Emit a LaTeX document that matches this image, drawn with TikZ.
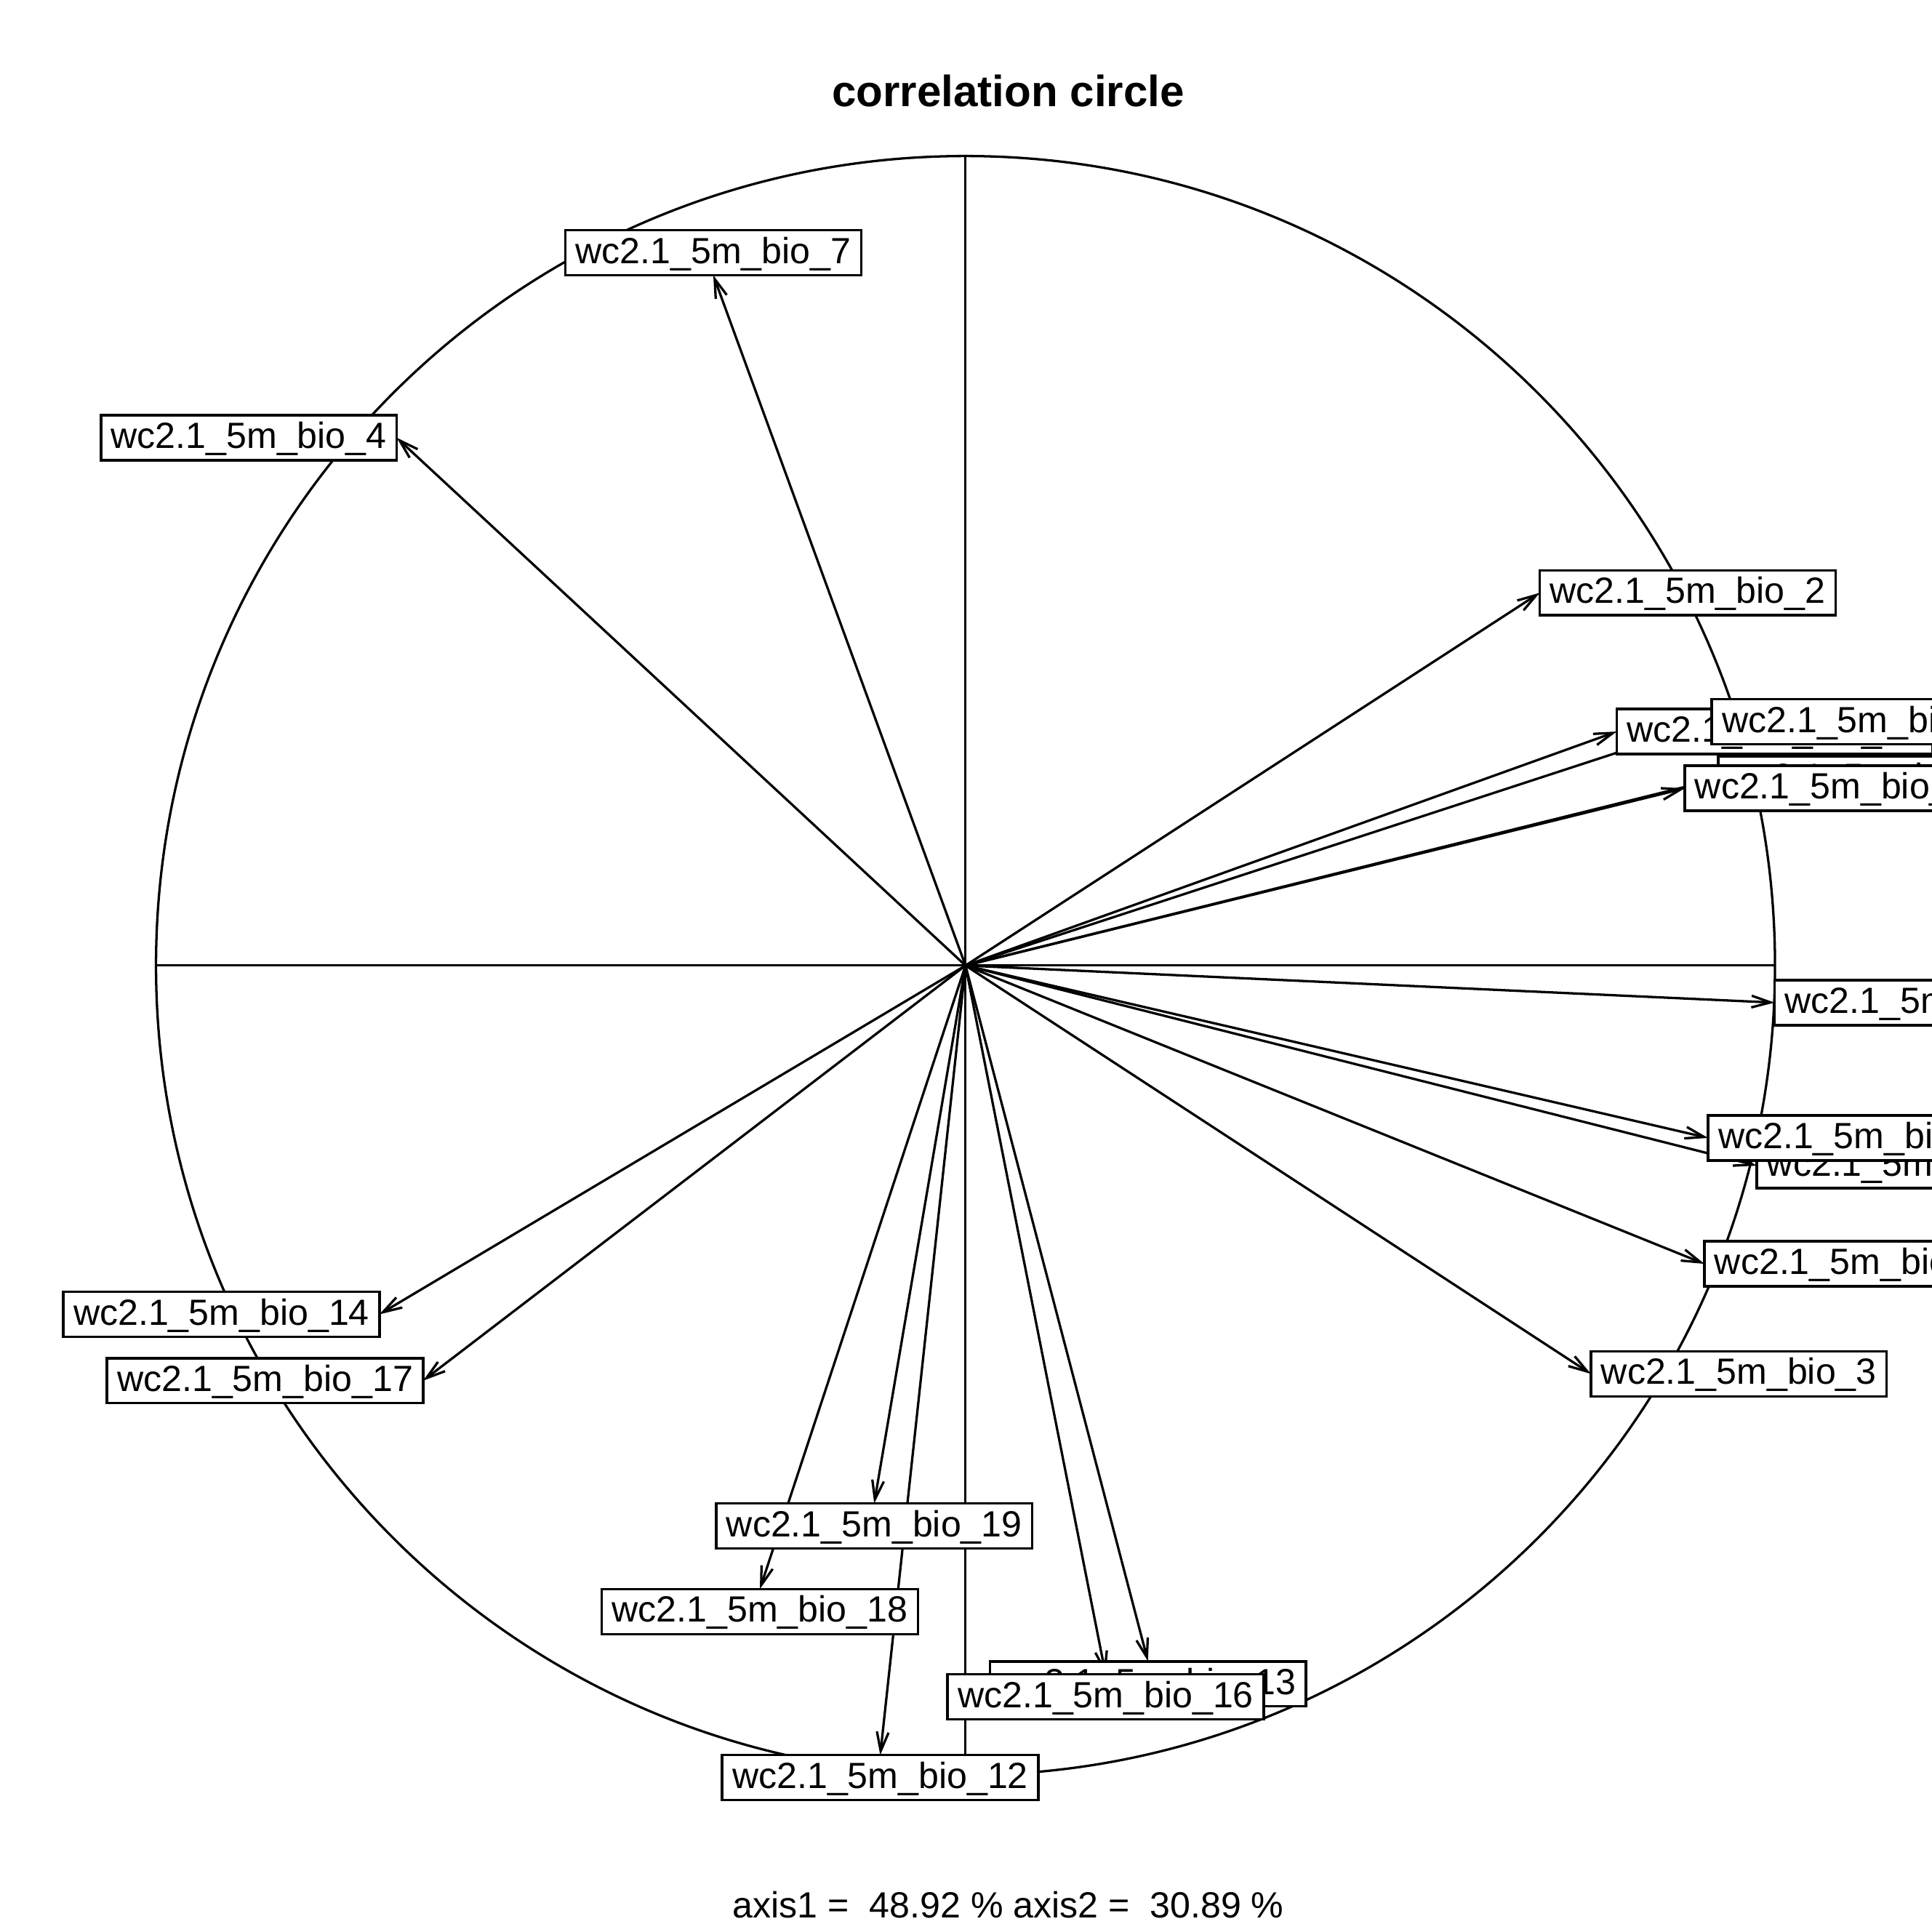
\documentclass[tikz,border=0pt]{standalone}
\usepackage{fontspec}
\setmainfont{Liberation Sans}
\usetikzlibrary{arrows.meta}

\tikzset{
  lab/.style={draw, fill=white, line width=.6pt, outer sep=0pt,
    inner xsep=.0821cm, inner ysep=.0567cm, text height=.2116cm, text depth=.04cm,
    font=\fontsize{8.41pt}{10pt}\selectfont},
  arr/.style={-{Straight Barb[length=.155cm,width=.095cm]}}
}

\begin{document}
\begin{tikzpicture}[x=.01cm, y=-.01cm, line width=.55pt]
\useasboundingbox (0,0) rectangle (1568,1568);
\clip (0,0) rectangle (1568,1568);
\node[anchor=base, font=\bfseries\fontsize{10.09pt}{12pt}\selectfont] (title) at (818.3,86.6) {correlation circle};
\node[anchor=base, font=\fontsize{8.41pt}{10pt}\selectfont] (inertia) at (818.3,1556.5) {axis1 =\ \ 48.92 \% axis2 =\ \ 30.89 \%};
% circle and axes
\coordinate (o) at (783.6,783.6);
\draw (o) circle [radius=6.566cm];
\draw (127,783.6) -- (1440.2,783.6);\draw (783.6,127) -- (783.6,1440.2);
% arrow ends
\foreach \t/\x/\y in {t7/578.9/223.3, t4/321.9/355.2, t2/1249.7/481.1, t10/1312.2/593.7,
  t5/1389.3/585.7, t1/1394.6/631.9, t11/1367.3/639.8, t15/1440.3/813.7,
  t9/1386.3/923.5, t8/1425.8/946.0, t6/1383.3/1025.7, t3/1291.2/1115.0,
  t14/307.9/1066.7, t17/343.4/1120.5, t19/709.5/1220.1, t18/616.7/1289.7,
  t12/714.4/1424.4, t13/931.7/1348.3, t16/897.3/1358.8}{
	\coordinate (\t) at (\x,\y);
	\draw[arr] (o) -- (\t);
	}
% labels
\node[lab, anchor=south] (b7) at (t7) {wc2.1\_5m\_bio\_7};
\node[lab, anchor=east] (b4) at (t4) {wc2.1\_5m\_bio\_4};
\node[lab, anchor=west] (b2) at (t2) {wc2.1\_5m\_bio\_2};
\node[lab, anchor=west] (b10) at (t10) {wc2.1\_5m\_bio\_10};
\node[lab, anchor=west] (b5) at (t5) {wc2.1\_5m\_bio\_5};
\node[lab, anchor=west] (b1) at (t1) {wc2.1\_5m\_bio\_1};
\node[lab, anchor=west] (b11) at (t11) {wc2.1\_5m\_bio\_11};
\node[lab, anchor=west] (b15) at (t15) {wc2.1\_5m\_bio\_15};
\node[lab, anchor=west] (b8) at (t8) {wc2.1\_5m\_bio\_8};
\node[lab, anchor=west] (b9) at (t9) {wc2.1\_5m\_bio\_9};
\node[lab, anchor=west] (b6) at (t6) {wc2.1\_5m\_bio\_6};
\node[lab, anchor=west] (b3) at (t3) {wc2.1\_5m\_bio\_3};
\node[lab, anchor=east] (b14) at (t14) {wc2.1\_5m\_bio\_14};
\node[lab, anchor=east] (b17) at (t17) {wc2.1\_5m\_bio\_17};
\node[lab, anchor=north] (b19) at (t19) {wc2.1\_5m\_bio\_19};
\node[lab, anchor=north] (b18) at (t18) {wc2.1\_5m\_bio\_18};
\node[lab, anchor=north] (b12) at (t12) {wc2.1\_5m\_bio\_12};
\node[lab, anchor=north] (b13) at (t13) {wc2.1\_5m\_bio\_13};
\node[lab, anchor=north] (b16) at (t16) {wc2.1\_5m\_bio\_16};
\end{tikzpicture}
\end{document}
